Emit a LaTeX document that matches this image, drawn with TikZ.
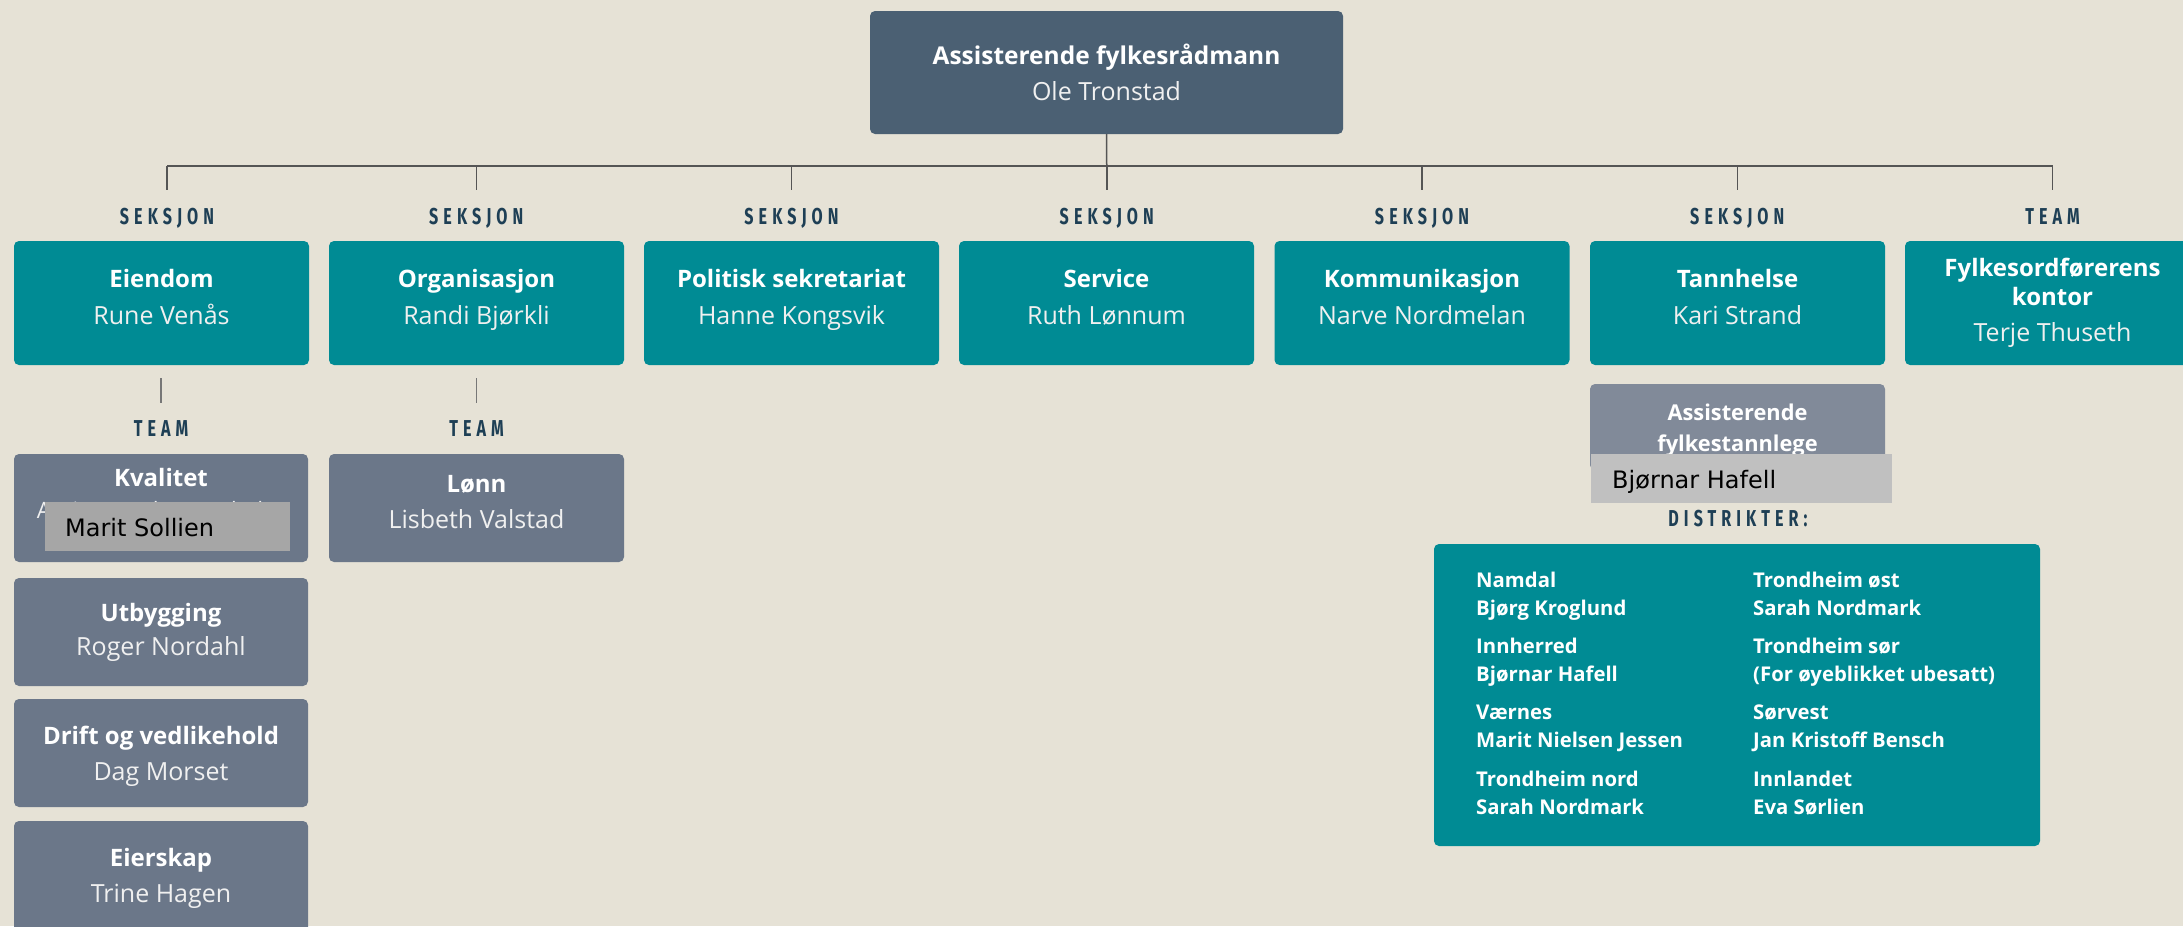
\documentclass[tikz,border=0pt]{standalone}
\usepackage{fontspec}
\setmainfont{Open Sans}
\newfontfamily\lblfont[FakeStretch=0.70,LetterSpace=22]{Fira Sans}
\newfontfamily\ovfont{DejaVu Sans}
\usetikzlibrary{calc}
\definecolor{bgc}{HTML}{E6E2D6}
\definecolor{topc}{HTML}{4B6073}
\definecolor{tealc}{HTML}{008B94}
\definecolor{teamc}{HTML}{6B7789}
\definecolor{assc}{HTML}{818A99}
\definecolor{lblc}{HTML}{1E3F55}
\definecolor{linec}{HTML}{555555}
\definecolor{ovA}{HTML}{A6A6A6}
\definecolor{ovB}{HTML}{C0C0C0}
\tikzset{
  boxbase/.style={rectangle, rounded corners=5pt, inner sep=0pt, outer sep=0pt, draw=none, anchor=north west},
  topbox/.style={boxbase, fill=topc},
  tealbox/.style={boxbase, fill=tealc},
  teambox/.style={boxbase, fill=teamc},
  assbox/.style={boxbase, fill=assc},
  titletext/.style={anchor=base, inner sep=0pt, text=white, font=\fontsize{24}{28}\selectfont\bfseries},
  nametext/.style={anchor=base, inner sep=0pt, text=white!94!black, font=\fontsize{25}{29}\selectfont},
  disttext/.style={anchor=base west, inner sep=0pt, text=white, font=\fontsize{20.3}{24}\selectfont\bfseries},
  lbl/.style={anchor=base, inner sep=0pt, text=lblc, font=\lblfont\fontsize{23}{27}\selectfont\bfseries},
  conn/.style={draw=linec, line width=1.5pt},
  subconn/.style={draw=linec!80, line width=1.3pt},
  ovbox/.style={rectangle, inner sep=0pt, outer sep=0pt, draw=none, anchor=north west},
  ovtext/.style={anchor=base west, inner sep=0pt, text=black, font=\ovfont\fontsize{24}{29}\selectfont}
}
% name, style, x, y, w, h, title, person, title offset, person offset
\newcommand{\orgunit}[8]{%
  \node[#2, minimum width=#5, minimum height=#6] (#1) at (#3,#4) {};
  \node[titletext] (#1-t) at ($(#1.north)+(0,\toff)$) {#7};
  \node[nametext] (#1-n) at ($(#1.north)+(0,\noff)$) {#8};
}
\def\toff{45}\def\noff{83}
\begin{document}
\begin{tikzpicture}[x=1pt,y=-1pt]
\fill[bgc] (0,0) rectangle (2183,926);
\useasboundingbox (0,0) rectangle (2183,926);

% top box
\node[topbox, minimum width=473, minimum height=123] (top) at (870,11) {};
\node[titletext, font=\fontsize{24.5}{28}\selectfont\bfseries] (top-t) at ($(top.north)+(0,53)$) {Assisterende fylkesrådmann};
\node[nametext] (top-n) at ($(top.north)+(0,89)$) {Ole Tronstad};

% connectors
\coordinate (bus) at (1106.75,166);
\coordinate (bL) at (167,166);
\coordinate (bR) at (2052.5,166);
\draw[conn] (top.south) -- (bus);
\draw[conn] (bL) -- (bR);
\foreach \i/\x in {1/167,2/476.25,3/791.5,4/1106.75,5/1422,6/1737.25,7/2052.5}{
  \coordinate (up\i) at (\x,166);
  \coordinate (dn\i) at (\x,190);
  \draw[conn] (up\i) -- (dn\i);
}

% section labels
\node[lbl] (l1) at (167,224) {SEKSJON};
\node[lbl] (l2) at (476.25,224) {SEKSJON};
\node[lbl] (l3) at (791.5,224) {SEKSJON};
\node[lbl] (l4) at (1106.75,224) {SEKSJON};
\node[lbl] (l5) at (1422,224) {SEKSJON};
\node[lbl] (l6) at (1737.25,224) {SEKSJON};
\node[lbl] (l7) at (2052.5,224) {TEAM};

% section boxes
\def\toff{46}\def\noff{83}
\orgunit{eiendom}{tealbox}{14}{241}{295}{124}{Eiendom}{Rune Venås}
\orgunit{org}{tealbox}{329}{241}{295}{124}{Organisasjon}{Randi Bjørkli}
\orgunit{pol}{tealbox}{644}{241}{295}{124}{Politisk sekretariat}{Hanne Kongsvik}
\orgunit{serv}{tealbox}{959}{241}{295}{124}{Service}{Ruth Lønnum}
\orgunit{komm}{tealbox}{1274.5}{241}{295}{124}{Kommunikasjon}{Narve Nordmelan}
\orgunit{tann}{tealbox}{1590}{241}{295}{124}{Tannhelse}{Kari Strand}
\node[tealbox, minimum width=295, minimum height=124] (fylk) at (1905,241) {};
\node[titletext] (fylk-t1) at ($(fylk.north)+(0,35)$) {Fylkesordførerens};
\node[titletext] (fylk-t2) at ($(fylk.north)+(0,64)$) {kontor};
\node[nametext] (fylk-n) at ($(fylk.north)+(0,100)$) {Terje Thuseth};

% sub connectors and team labels
\coordinate (e1) at (161,378);
\coordinate (e2) at (161,403);
\draw[subconn] (e1) -- (e2);
\coordinate (o1) at (476.5,378);
\coordinate (o2) at (476.5,403);
\draw[subconn] (o1) -- (o2);
\node[lbl] (lt1) at (161,436) {TEAM};
\node[lbl] (lt2) at (476.5,436) {TEAM};

% team boxes
\node[teambox, minimum width=294, minimum height=108] (kval) at (14,454) {};
\node[titletext] (kval-t) at ($(kval.north)+(0,32)$) {Kvalitet};
\node[nametext, font=\fontsize{22.5}{27}\selectfont] (kval-r) at ($(kval.north)+(0,64)$) {Assisterende teamleder};
\def\toff{43}\def\noff{77}
\orgunit{utb}{teambox}{14}{578}{294}{108}{Utbygging}{Roger Nordahl}
\def\toff{45}\def\noff{81}
\orgunit{drift}{teambox}{14}{699}{294}{108}{Drift og vedlikehold}{Dag Morset}
\orgunit{eier}{teambox}{14}{821}{294}{120}{Eierskap}{Trine Hagen}
\def\toff{38}\def\noff{74}
\orgunit{lonn}{teambox}{329}{454}{295}{108}{Lønn}{Lisbeth Valstad}

% assistant box
\node[assbox, minimum width=295, minimum height=86] (ass) at (1590,384) {};
\node[titletext, font=\fontsize{21.8}{25}\selectfont\bfseries] (ass-t1) at ($(ass.north)+(0,36)$) {Assisterende};
\node[titletext, font=\fontsize{21.8}{25}\selectfont\bfseries] (ass-t2) at ($(ass.north)+(0,67)$) {fylkestannlege};

% overlays
\node[ovbox, fill=ovA, minimum width=245, minimum height=49] (ovk) at (45,502) {};
\node[ovtext] (ovk-t) at (65,536) {Marit Sollien};
\node[ovbox, fill=ovB, minimum width=301, minimum height=49] (ova) at (1591,454) {};
\node[ovtext] (ova-t) at (1612,488) {Bjørnar Hafell};

% districts
\node[lbl] (ld) at (1738,526) {DISTRIKTER:};
\node[tealbox, minimum width=606, minimum height=302] (dist) at (1434,544) {};
\node[disttext] (d1a) at (1476,587) {Namdal};
\node[disttext] (d1b) at (1476,615) {Bjørg Kroglund};
\node[disttext] (d2a) at (1476,653) {Innherred};
\node[disttext] (d2b) at (1476,681) {Bjørnar Hafell};
\node[disttext] (d3a) at (1476,719) {Værnes};
\node[disttext] (d3b) at (1476,747) {Marit Nielsen Jessen};
\node[disttext] (d4a) at (1476,786) {Trondheim nord};
\node[disttext] (d4b) at (1476,814) {Sarah Nordmark};
\node[disttext] (d5a) at (1753,587) {Trondheim øst};
\node[disttext] (d5b) at (1753,615) {Sarah Nordmark};
\node[disttext] (d6a) at (1753,653) {Trondheim sør};
\node[disttext] (d6b) at (1753,681) {(For øyeblikket ubesatt)};
\node[disttext] (d7a) at (1753,719) {Sørvest};
\node[disttext] (d7b) at (1753,747) {Jan Kristoff Bensch};
\node[disttext] (d8a) at (1753,786) {Innlandet};
\node[disttext] (d8b) at (1753,814) {Eva Sørlien};
\end{tikzpicture}
\end{document}
